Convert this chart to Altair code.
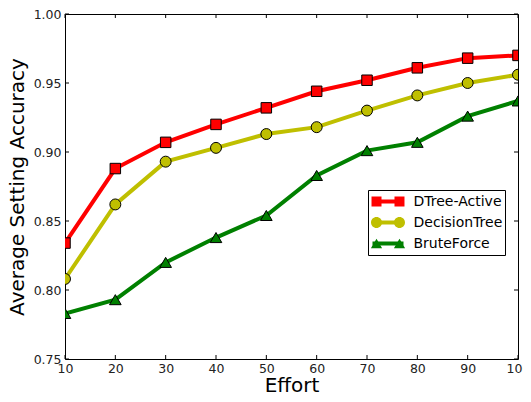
import altair as alt
import pandas as pd

# ---------------- data ----------------
efforts = [10, 20, 30, 40, 50, 60, 70, 80, 90, 100]
dtree_active = [0.834, 0.888, 0.907, 0.920, 0.932, 0.944, 0.952, 0.961, 0.968, 0.970]
decision_tree = [0.808, 0.862, 0.893, 0.903, 0.913, 0.918, 0.930, 0.941, 0.950, 0.956]
brute_force = [0.783, 0.793, 0.820, 0.838, 0.854, 0.883, 0.901, 0.907, 0.926, 0.937]

series_names = ["DTree-Active", "DecisionTree", "BruteForce"]
series_colors = ["#ff0000", "#bfbf00", "#008000"]
marker_shapes = ["square", "circle", "triangle-up"]

x_ticks = [10, 20, 30, 40, 50, 60, 70, 80, 90, 100]
y_ticks = [0.75, 0.80, 0.85, 0.90, 0.95, 1.00]

# ---------------- tables ----------------
rows = []
for order, (name, vals) in enumerate(zip(series_names, [dtree_active, decision_tree, brute_force])):
    for e, v in zip(efforts, vals):
        rows.append({"series": name, "order": order, "effort": e, "acc": v})
df = pd.DataFrame(rows)
xt = pd.DataFrame({"effort": x_ticks})
yt = pd.DataFrame({"acc": y_ticks})

W, H = 453, 345
FONT = "DejaVu Sans"
TL = 4  # inward tick length

xscale = alt.Scale(domain=[10, 100], nice=False, zero=False)
yscale = alt.Scale(domain=[0.75, 1.0], nice=False, zero=False)

xaxis = alt.Axis(values=x_ticks, ticks=False, domain=False, grid=False,
                 labelFont=FONT, labelFontSize=12.5, labelColor="#222",
                 labelPadding=3, labelFlush=False,
                 title="Effort", titleFont=FONT, titleFontSize=20,
                 titleFontWeight="normal", titleColor="#000", titlePadding=1)
yaxis = alt.Axis(values=y_ticks, format=".2f", ticks=False, domain=False, grid=False,
                 labelFont=FONT, labelFontSize=12.5, labelColor="#222",
                 labelPadding=4, labelFlush=False,
                 title="Average Setting Accuracy", titleFont=FONT, titleFontSize=20,
                 titleFontWeight="normal", titleColor="#000", titlePadding=6)

X = alt.X("effort:Q", scale=xscale, axis=xaxis, title="Effort")
Y = alt.Y("acc:Q", scale=yscale, axis=yaxis, title="Average Setting Accuracy")

base = alt.Chart(df)

# legend geometry (units of r = 17 px)
c, h = 0.676, 0.294
cr = 0.324
tw, th = 0.33, 0.28
f = lambda v: f"{v:.3f}"
sq_path = (f"M{f(-c-h)},{f(-h)}H{f(-c+h)}V{f(h)}H{f(-c-h)}Z"
           f"M{f(c-h)},{f(-h)}H{f(c+h)}V{f(h)}H{f(c-h)}Z")
ci_path = (f"M{f(-c+cr)},0A{f(cr)},{f(cr)} 0 1,1 {f(-c-cr)},0A{f(cr)},{f(cr)} 0 1,1 {f(-c+cr)},0Z"
           f"M{f(c+cr)},0A{f(cr)},{f(cr)} 0 1,1 {f(c-cr)},0A{f(cr)},{f(cr)} 0 1,1 {f(c+cr)},0Z")
tr_path = (f"M{f(-c)},{f(-th)}L{f(-c+tw)},{f(th)}L{f(-c-tw)},{f(th)}Z"
           f"M{f(c)},{f(-th)}L{f(c+tw)},{f(th)}L{f(c-tw)},{f(th)}Z")

LX, LY = 303, 176
common_legend = dict(orient="none", legendX=LX, legendY=LY, title=None,
                     labelFont=FONT, labelFontSize=14, labelColor="#000",
                     padding=2.5, labelOffset=8, clipHeight=18, rowPadding=3,
                     direction="vertical")

lines = base.mark_line(strokeWidth=4, clip=True).encode(
    x=X, y=Y,
    stroke=alt.Stroke("series:N",
                      sort=alt.EncodingSortField(field="order", op="min"),
                      scale=alt.Scale(range=series_colors),
                      legend=alt.Legend(symbolType="stroke", symbolStrokeWidth=4,
                                        symbolSize=961, fillColor="white",
                                        strokeColor="#000", labelOpacity=0,
                                        **common_legend)),
)

point_layers = []
for name, col, shp, sz in zip(series_names, series_colors, marker_shapes, [110, 120, 135]):
    point_layers.append(
        base.transform_filter(alt.datum.series == name)
        .mark_point(shape=shp, filled=True, fill=col, stroke="black",
                    strokeWidth=1, size=sz, opacity=1, clip=True)
        .encode(x=X, y=Y)
    )

legend_layer = base.transform_filter("false").mark_point(
    filled=True, opacity=1, stroke="black", strokeWidth=1
).encode(
    x=X, y=Y,
    fill=alt.Fill("series:N", scale=alt.Scale(domain=series_names, range=series_colors),
                  legend=alt.Legend(symbolSize=1156, symbolStrokeColor="black",
                                    symbolStrokeWidth=1, symbolOpacity=1,
                                    **common_legend)),
    shape=alt.Shape("series:N", scale=alt.Scale(domain=series_names,
                                                range=[sq_path, ci_path, tr_path]),
                    legend=alt.Legend(symbolSize=1156, symbolStrokeColor="black",
                                      symbolStrokeWidth=1, symbolOpacity=1,
                                      **common_legend)),
)

tick_style = dict(color="black", strokeWidth=1)
bt = alt.Chart(xt).mark_rule(**tick_style).encode(
    x=X, y=alt.value(H), y2=alt.value(H - TL))
tt = alt.Chart(xt).mark_rule(**tick_style).encode(
    x=X, y=alt.value(0), y2=alt.value(TL))
lt = alt.Chart(yt).mark_rule(**tick_style).encode(
    y=Y, x=alt.value(0), x2=alt.value(TL))
rt = alt.Chart(yt).mark_rule(**tick_style).encode(
    y=Y, x=alt.value(W), x2=alt.value(W - TL))

chart = alt.layer(lines, *point_layers, legend_layer, bt, tt, lt, rt).properties(
    width=W, height=H,
    padding={"left": 57, "top": 6, "right": 5, "bottom": 35},
    autosize=alt.AutoSizeParams(type="none"),
    background="white",
).configure_view(stroke="black", strokeWidth=1)

chart.save("out.html", embed_options={"renderer": "svg", "actions": False})
